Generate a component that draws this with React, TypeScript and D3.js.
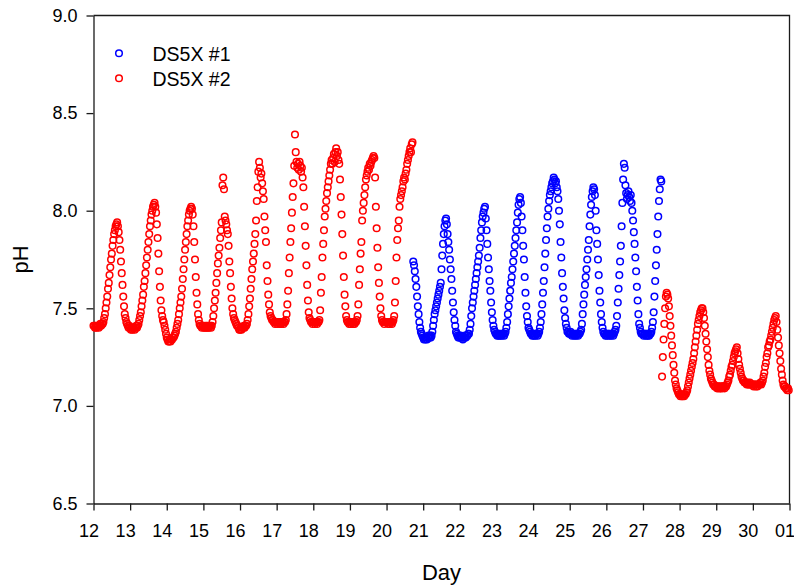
import React, { useRef, useEffect } from 'react';
import * as d3 from 'd3';

const WIDTH = 794;
const HEIGHT = 587;
const FONT = '"Liberation Sans", Arial, Helvetica, sans-serif';

// readings are half-hourly; each row below is one day (48 slots)
const SLOTS_PER_DAY = 48;

const dayTicks = [12, 13, 14, 15, 16, 17, 18, 19, 20, 21, 22, 23, 24, 25, 26, 27, 28, 29, 30, 31];
const dayTickLabels = ['12', '13', '14', '15', '16', '17', '18', '19', '20', '21', '22', '23', '24', '25', '26', '27', '28', '29', '30', '01'];
const phTicks = [6.5, 7.0, 7.5, 8.0, 8.5, 9.0];

const seriesNames = ['DS5X #1', 'DS5X #2'];
const seriesColors = ['#0000ff', '#ff0000'];

// DS5X #2, first stretch: day 12 slot 0 .. day 20 slot 34
const ds5x2FirstStart = [12, 0];
const ds5x2First = [
  // 12
  [7.41, 7.41, 7.40, 7.41, 7.40, 7.41, 7.41, 7.40, 7.41, 7.42, 7.41, 7.42, 7.42, 7.43,
    7.45, 7.47, 7.50, 7.53, 7.56, 7.60, 7.63, 7.67, 7.71, 7.75, 7.78, 7.82, 7.85, 7.88, 7.90, 7.92, 7.93, 7.94,
    7.92, 7.89, 7.85, 7.80, 7.74, 7.68, 7.62, 7.56, 7.51, 7.47, 7.45, 7.43, 7.42, 7.41, 7.40, 7.41],
  // 13
  [7.40, 7.39, 7.40, 7.39, 7.40, 7.40, 7.39, 7.40, 7.41, 7.40, 7.41, 7.42,
    7.44, 7.46, 7.48, 7.51, 7.54, 7.57, 7.61, 7.64, 7.68, 7.72, 7.76, 7.80, 7.84, 7.88, 7.92, 7.95, 7.98, 8.00, 8.02, 8.03, 8.04,
    8.02, 7.99, 7.93, 7.86, 7.78, 7.69, 7.61, 7.54, 7.49, 7.46, 7.44, 7.43, 7.41, 7.39, 7.37],
  // 14
  [7.35, 7.34, 7.33, 7.33, 7.34, 7.33, 7.34, 7.34, 7.35, 7.35, 7.36, 7.37,
    7.38, 7.40, 7.42, 7.44, 7.47, 7.50, 7.53, 7.56,
    7.60, 7.65, 7.70, 7.75, 7.80, 7.84, 7.88, 7.92, 7.95, 7.98, 8.00, 8.01, 8.02,
    8.01, 7.98, 7.92, 7.84, 7.75, 7.66, 7.58, 7.52, 7.47, 7.44, 7.42, 7.41, 7.41, 7.40, 7.41],
  // 15
  [7.41, 7.40, 7.40, 7.41, 7.40, 7.41, 7.40, 7.40, 7.41, 7.41, 7.40, 7.41,
    7.43, 7.46, 7.50, 7.54, 7.58, 7.63, 7.68, 7.73, 7.77, 7.81, 7.86, 7.90, 7.94,
    8.13, 8.17, 8.11, 7.97, 7.95, 7.93, 7.90, 7.88,
    7.82, 7.74, 7.68, 7.61, 7.55, 7.50, 7.47, 7.45, 7.44, 7.43, 7.42, 7.41, 7.41, 7.40, 7.39],
  // 16
  [7.39, 7.40, 7.39, 7.40, 7.40, 7.41, 7.40, 7.41, 7.41, 7.42,
    7.44, 7.47, 7.51, 7.55, 7.60, 7.65, 7.70, 7.74, 7.78, 7.83, 7.88,
    7.95, 8.05, 8.12, 8.20, 8.25, 8.22, 8.17, 8.19, 8.14, 8.10, 8.06, 7.97,
    7.90, 7.84, 7.72, 7.64, 7.57, 7.52, 7.48, 7.46, 7.45, 7.44, 7.44, 7.43, 7.43, 7.42, 7.43],
  // 17
  [7.43, 7.42, 7.43, 7.43, 7.42, 7.43, 7.42, 7.43, 7.43, 7.42, 7.43, 7.43, 7.44,
    7.47, 7.52, 7.59, 7.68, 7.76, 7.84, 7.91, 7.99, 8.07, 8.14, 8.23, 8.39,
    8.30, 8.25, 8.22, 8.24, 8.21, 8.25, 8.23, 8.20, 8.22, 8.17,
    8.12, 8.02, 7.92, 7.82, 7.72, 7.62, 7.54, 7.48, 7.45, 7.44, 7.43, 7.43, 7.42],
  // 18
  [7.43, 7.43, 7.42, 7.43, 7.43, 7.42, 7.43, 7.43, 7.44,
    7.49, 7.58, 7.66, 7.76, 7.83, 7.90, 7.97,
    8.01, 8.05, 8.09, 8.12, 8.15, 8.18, 8.21, 8.24, 8.26,
    8.24, 8.27, 8.29, 8.25, 8.30, 8.32, 8.28, 8.30, 8.26, 8.24,
    8.16, 8.07, 7.98, 7.88, 7.77, 7.66, 7.57, 7.51, 7.46, 7.44, 7.43, 7.43, 7.42],
  // 19
  [7.43, 7.42, 7.43, 7.43, 7.42, 7.43, 7.42, 7.43, 7.43, 7.44, 7.46,
    7.52, 7.62, 7.70, 7.78, 7.84, 7.95, 8.00, 8.04,
    8.08, 8.12, 8.16, 8.18, 8.20, 8.22, 8.21, 8.24, 8.23, 8.25, 8.26, 8.27, 8.28, 8.27,
    8.17, 8.02, 7.91, 7.81, 7.71, 7.63, 7.56, 7.50, 7.46, 7.44, 7.43, 7.43, 7.42, 7.43, 7.43],
  // 20 (until 17:00)
  [7.43, 7.43, 7.42, 7.43, 7.42, 7.43, 7.43, 7.42, 7.43, 7.44, 7.46,
    7.53, 7.64, 7.76, 7.85, 7.91, 7.95,
    8.02, 8.06, 8.08, 8.10, 8.12, 8.15, 8.17, 8.16, 8.19, 8.21, 8.24,
    8.26, 8.28, 8.30, 8.32, 8.30, 8.34, 8.35],
];

// DS5X #1: day 20 slot 35 .. day 27 slot 24
const ds5x1Start = [20, 35];
const ds5x1 = [
  // 20 (from 17:30)
  [7.74, 7.72, 7.69, 7.65, 7.61, 7.56, 7.51, 7.47, 7.43, 7.40, 7.38, 7.37, 7.36],
  // 21
  [7.35, 7.34, 7.35, 7.34, 7.35, 7.34, 7.35, 7.36, 7.35, 7.36, 7.35, 7.36, 7.38,
    7.41, 7.44, 7.47, 7.49, 7.51, 7.53, 7.55, 7.57, 7.59, 7.61, 7.63, 7.70,
    7.77, 7.83, 7.88, 7.92, 7.95, 7.96,
    7.93, 7.88, 7.84, 7.80, 7.75, 7.70, 7.65, 7.59, 7.53, 7.48, 7.44, 7.41, 7.38, 7.37, 7.36, 7.35, 7.36],
  // 22
  [7.35, 7.36, 7.35, 7.35, 7.34, 7.35, 7.35, 7.36, 7.35, 7.36, 7.36, 7.37, 7.37, 7.39,
    7.42, 7.46, 7.50, 7.53, 7.56, 7.59, 7.62, 7.65, 7.68, 7.71, 7.74, 7.77, 7.81,
    7.86, 7.90, 7.94, 7.97, 7.99, 8.01, 8.02,
    7.96, 7.90, 7.83, 7.76, 7.70, 7.64, 7.59, 7.53, 7.48, 7.44, 7.41, 7.39, 7.38, 7.37],
  // 23
  [7.37, 7.36, 7.37, 7.36, 7.37, 7.36, 7.37, 7.36, 7.37, 7.37, 7.36, 7.37, 7.38, 7.40,
    7.43, 7.47, 7.51, 7.55, 7.59, 7.63, 7.66, 7.70, 7.74, 7.78, 7.82, 7.86, 7.90,
    7.94, 7.99, 8.03, 8.06, 8.07,
    8.04, 7.97, 7.90, 7.82, 7.75, 7.66, 7.58, 7.51, 7.46, 7.43, 7.40, 7.39, 7.38, 7.37, 7.37, 7.36],
  // 24
  [7.37, 7.36, 7.37, 7.36, 7.37, 7.37, 7.36, 7.37, 7.38, 7.40,
    7.43, 7.47, 7.52, 7.58, 7.64, 7.71, 7.78, 7.85, 7.91, 7.97,
    8.01, 8.05, 8.08, 8.10, 8.12, 8.14, 8.15, 8.17, 8.16, 8.14, 8.15, 8.12, 8.10,
    8.06, 8.00, 7.93, 7.84, 7.76, 7.68, 7.61, 7.55, 7.49, 7.45, 7.42, 7.40, 7.38, 7.38, 7.37],
  // 25
  [7.37, 7.38, 7.37, 7.36, 7.37, 7.37, 7.36, 7.37, 7.36, 7.37, 7.37, 7.36, 7.37, 7.37, 7.38, 7.39,
    7.42, 7.47, 7.52, 7.57, 7.62, 7.66, 7.70, 7.75, 7.80, 7.85, 7.92,
    7.98, 8.03, 8.07, 8.10, 8.12, 8.11, 8.08,
    8.00, 7.90, 7.83, 7.75, 7.67, 7.59, 7.53, 7.47, 7.43, 7.40, 7.38, 7.37, 7.37, 7.36],
  // 26
  [7.37, 7.36, 7.37, 7.37, 7.36, 7.37, 7.36, 7.37, 7.37, 7.36, 7.37, 7.38, 7.39, 7.41,
    7.46, 7.53, 7.60, 7.67, 7.74, 7.82, 7.92, 8.04, 8.16, 8.24,
    8.22, 8.13, 8.09, 8.06, 8.08, 8.10, 8.07, 8.05, 8.08, 8.04, 8.00,
    7.95, 7.89, 7.83, 7.76, 7.69, 7.61, 7.54, 7.47, 7.42, 7.40, 7.38, 7.37, 7.37],
  // 27 (until 12:00)
  [7.37, 7.36, 7.37, 7.37, 7.36, 7.37, 7.36, 7.37, 7.36, 7.37, 7.37, 7.38, 7.40, 7.43,
    7.48, 7.56, 7.64, 7.72, 7.80, 7.88, 7.97, 8.05, 8.11, 8.16, 8.15],
];

// DS5X #2, second stretch: day 27 slot 25 .. end
const ds5x2SecondStart = [27, 25];
const ds5x2Second = [
  // 27 (from 12:30)
  [7.15, 7.25, 7.34, 7.42, 7.50, 7.56, 7.58, 7.57, 7.55,
    7.51, 7.46, 7.41, 7.36, 7.31, 7.26, 7.21, 7.17, 7.13, 7.11, 7.09, 7.08, 7.07, 7.06],
  // 28
  [7.06, 7.05, 7.06, 7.05, 7.05, 7.06, 7.05, 7.06, 7.06, 7.07, 7.08,
    7.10, 7.12, 7.14, 7.16, 7.18, 7.20, 7.22, 7.24, 7.27, 7.30, 7.33, 7.36, 7.39, 7.42, 7.44, 7.46, 7.48, 7.49,
    7.50, 7.50,
    7.48, 7.45, 7.41, 7.37, 7.33, 7.29, 7.25, 7.21, 7.18, 7.16, 7.14, 7.13, 7.12, 7.11, 7.11, 7.10, 7.10],
  // 29
  [7.10, 7.09, 7.10, 7.09, 7.10, 7.09, 7.09, 7.10, 7.09, 7.10, 7.10, 7.09, 7.10, 7.10, 7.11,
    7.12, 7.13, 7.15, 7.16, 7.18, 7.20, 7.21, 7.23, 7.25, 7.27, 7.28, 7.29, 7.30,
    7.27, 7.24, 7.21, 7.19, 7.17, 7.15, 7.14, 7.13, 7.13, 7.12,
    7.12, 7.12, 7.11, 7.12, 7.11, 7.11, 7.12, 7.11, 7.11, 7.11],
  // 30
  [7.11, 7.10, 7.11, 7.11, 7.10, 7.11, 7.10, 7.11, 7.11, 7.11, 7.12, 7.11, 7.12, 7.13,
    7.15, 7.17, 7.20, 7.22, 7.25, 7.27, 7.30, 7.31, 7.33, 7.34, 7.36, 7.38, 7.40, 7.42, 7.44, 7.45, 7.46,
    7.43, 7.39, 7.35, 7.31, 7.27, 7.23, 7.19, 7.16, 7.13, 7.11, 7.10,
    7.10, 7.09, 7.09, 7.08, 7.09, 7.08],
];

type Pt = { day: number; ph: number };

function toPoints(start: number[], rows: number[][]): Pt[] {
  return rows.flatMap((row, r) =>
    row.map((v, i) => ({
      day: start[0] + r + ((r === 0 ? start[1] : 0) + i) / SLOTS_PER_DAY,
      ph: v,
    }))
  );
}

const MARK_R = 3.3;
const MARK_W = 1.5;

const PhChart = () => {
  const ref = useRef<SVGSVGElement>(null);

  useEffect(() => {
    const svg = d3.select(ref.current);
    svg.selectAll('*').remove();

    const left = 93.5, right = 789.5, top = 15.5, bottom = 503.5;

    const x = d3.scaleLinear().domain([12, 31]).range([left, right]);
    const y = d3.scaleLinear().domain([6.5, 9.0]).range([bottom, top]);

    const ink = '#1a1a1a';

    // frame: top and right edges
    svg.append('path')
      .attr('d', `M${left},${top}H${right}V${bottom}`)
      .attr('fill', 'none')
      .attr('stroke', ink)
      .attr('stroke-width', 1.3);

    // x axis
    const xAxis = svg.append('g')
      .attr('transform', `translate(0,${bottom})`)
      .call(
        d3.axisBottom(x)
          .tickValues(dayTicks)
          .tickFormat((_d, i) => dayTickLabels[i])
          .tickSize(7)
          .tickSizeOuter(0)
          .tickPadding(14)
      );
    xAxis.selectAll('path, line').attr('stroke', ink).attr('stroke-width', 1.3);
    xAxis.selectAll('text')
      .attr('x', -5)
      .attr('fill', '#000')
      .style('font-family', FONT)
      .style('font-size', '18px');

    // y axis
    const yAxis = svg.append('g')
      .attr('transform', `translate(${left},0)`)
      .call(
        d3.axisLeft(y)
          .tickValues(phTicks)
          .tickFormat(d3.format('.1f'))
          .tickSize(7)
          .tickSizeOuter(0)
          .tickPadding(9)
      );
    yAxis.selectAll('path, line').attr('stroke', ink).attr('stroke-width', 1.3);
    yAxis.selectAll('text')
      .attr('fill', '#000')
      .style('font-family', FONT)
      .style('font-size', '18px');

    // axis titles
    svg.append('text')
      .attr('x', (left + right) / 2)
      .attr('y', 580)
      .attr('text-anchor', 'middle')
      .style('font-family', FONT)
      .style('font-size', '22px')
      .text('Day');

    svg.append('text')
      .attr('transform', `translate(27.5,${(top + bottom) / 2}) rotate(-90)`)
      .attr('text-anchor', 'middle')
      .style('font-family', FONT)
      .style('font-size', '22px')
      .text('pH');

    // data
    const groups: [Pt[], string][] = [
      [toPoints(ds5x2FirstStart, ds5x2First), seriesColors[1]],
      [toPoints(ds5x1Start, ds5x1), seriesColors[0]],
      [toPoints(ds5x2SecondStart, ds5x2Second), seriesColors[1]],
    ];

    groups.forEach(([pts, color]) => {
      svg.append('g')
        .selectAll('circle')
        .data(pts)
        .enter().append('circle')
        .attr('cx', d => x(d.day))
        .attr('cy', d => y(d.ph))
        .attr('r', MARK_R)
        .attr('fill', 'none')
        .attr('stroke', color)
        .attr('stroke-width', MARK_W);
    });

    // legend
    const legend = svg.append('g');
    seriesNames.forEach((name, i) => {
      const cy = 53.3 + i * 25;
      legend.append('circle')
        .attr('cx', 119)
        .attr('cy', cy)
        .attr('r', MARK_R)
        .attr('fill', 'none')
        .attr('stroke', seriesColors[i])
        .attr('stroke-width', MARK_W);
      legend.append('text')
        .attr('x', 152.5)
        .attr('y', cy + 7.5)
        .style('font-family', FONT)
        .style('font-size', '19.5px')
        .text(name);
    });
  }, []);

  return (
    <svg
      ref={ref}
      width={WIDTH}
      height={HEIGHT}
      style={{ position: 'absolute', left: 0, top: 0, background: '#fff' }}
    />
  );
};

export default function App() {
  return <PhChart />;
}
